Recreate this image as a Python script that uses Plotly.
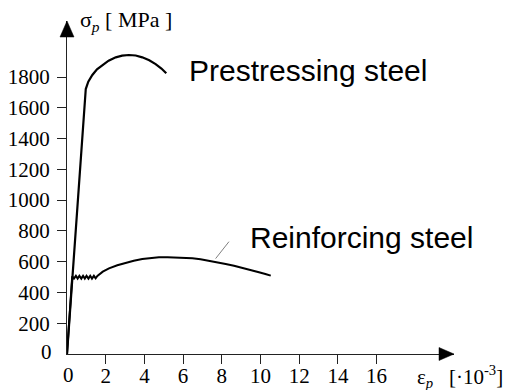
import plotly.graph_objects as go

# ---- data (strain in 1e-3, stress in MPa) ----
pre_strain = [0, 0.93, 0.97, 1.10, 1.31, 1.55, 1.82, 2.15, 2.52, 2.85, 3.20, 3.55, 3.89, 4.25, 4.58, 4.88, 5.13]
pre_stress = [0, 1680, 1722, 1770, 1813, 1850, 1878, 1906, 1928, 1939, 1943, 1940, 1928, 1909, 1884, 1855, 1824]

reb_strain = [0, 0.27, 0.36, 0.46, 0.55, 0.64, 0.74, 0.83, 0.92, 1.01, 1.11, 1.20, 1.29, 1.39, 1.48, 1.57,
              1.85, 2.17, 2.60, 3.03, 3.45, 3.89, 4.30, 4.75, 5.20, 5.62, 6.05, 6.48, 6.90, 7.34, 7.77,
              8.20, 8.63, 9.06, 9.50, 9.92, 10.25, 10.53]
reb_stress = [0, 505, 490, 508, 490, 508, 490, 508, 490, 508, 490, 508, 490, 508, 492, 507,
              535, 557, 577, 593, 606, 617, 624, 628, 629, 628, 626, 622, 615, 606, 596,
              585, 574, 561, 547, 531, 520, 509]

leader_strain = [7.68, 8.37]
leader_stress = [620, 730]

x_ticks = [2, 4, 6, 8, 10, 12, 14, 16]
y_ticks = [200, 400, 600, 800, 1000, 1200, 1400, 1600, 1800]

W, H = 511, 390
ML, MR, MT, MB = 67, 57, 21, 36
XR = [0, 20]
YR = [0, 2164]
pw, ph = W - ML - MR, H - MT - MB


def pap_x(px):
    return (px - ML) / pw


def pap_y(py):
    return (H - MB - py) / ph


fig = go.Figure()
fig.add_trace(go.Scatter(x=pre_strain, y=pre_stress, mode="lines",
                         line=dict(color="black", width=2.2), hoverinfo="skip"))
fig.add_trace(go.Scatter(x=reb_strain, y=reb_stress, mode="lines",
                         line=dict(color="black", width=2.0), hoverinfo="skip"))
fig.add_trace(go.Scatter(x=leader_strain, y=leader_stress, mode="lines",
                         line=dict(color="#808080", width=1), hoverinfo="skip"))

serif = "Liberation Serif, Times New Roman, serif"
sans = "Liberation Sans, Arial, sans-serif"


def txt(px, py, text, family, size, xanchor="left"):
    return dict(x=pap_x(px), y=pap_y(py), xref="paper", yref="paper", text=text,
                showarrow=False, xanchor=xanchor, yanchor="middle",
                font=dict(family=family, size=size, color="black"))


fig.update_layout(
    width=W, height=H,
    margin=dict(l=ML, r=MR, t=MT, b=MB, pad=0, autoexpand=False),
    paper_bgcolor="white", plot_bgcolor="white",
    showlegend=False,
    xaxis=dict(range=XR, showgrid=False, zeroline=False, showline=True, automargin=False,
               linecolor="#222", linewidth=1.3, ticks="outside", ticklen=9,
               tickwidth=1, tickcolor="#222", tickvals=x_ticks,
               ticktext=[str(v) for v in x_ticks], ticklabelstandoff=-6,
               tickfont=dict(family=serif, size=21, color="black")),
    yaxis=dict(range=YR, showgrid=False, zeroline=False, showline=True, automargin=False,
               linecolor="#222", linewidth=1.3, ticks="outside", ticklen=9,
               tickwidth=1, tickcolor="#222", tickvals=y_ticks,
               ticktext=[str(v) for v in y_ticks], ticklabelstandoff=3,
               tickfont=dict(family=serif, size=21, color="black")),
    shapes=[
        dict(type="path", xref="paper", yref="paper", xsizemode="pixel", ysizemode="pixel",
             xanchor=0, yanchor=1, path="M-7,-16 L0,0 L7,-16 Z",
             fillcolor="black", line=dict(color="black", width=0.5)),
        dict(type="path", xref="paper", yref="paper", xsizemode="pixel", ysizemode="pixel",
             xanchor=1, yanchor=0, path="M-15,-6.5 L0,0 L-15,6.5 Z",
             fillcolor="black", line=dict(color="black", width=0.5)),
    ],
    annotations=[
        txt(187, 70, "Prestressing steel", sans, 30),
        txt(248, 237, "Reinforcing steel", sans, 30),
        txt(78, 21, "σ<sub><i>p</i></sub> [&nbsp;MPa&nbsp;]", serif, 22),
        txt(415, 376, "ε<sub><i>p</i></sub>&nbsp;&nbsp;&nbsp;[·10<sup>-3</sup>]", serif, 21),
        txt(68, 375, "0", serif, 21, "center"),
        txt(54, 352, "0", serif, 21, "right"),
    ],
)

fig.write_html("out.html", config={"displayModeBar": False},
               post_script="document.body.style.margin='0';document.body.style.overflow='hidden';")
